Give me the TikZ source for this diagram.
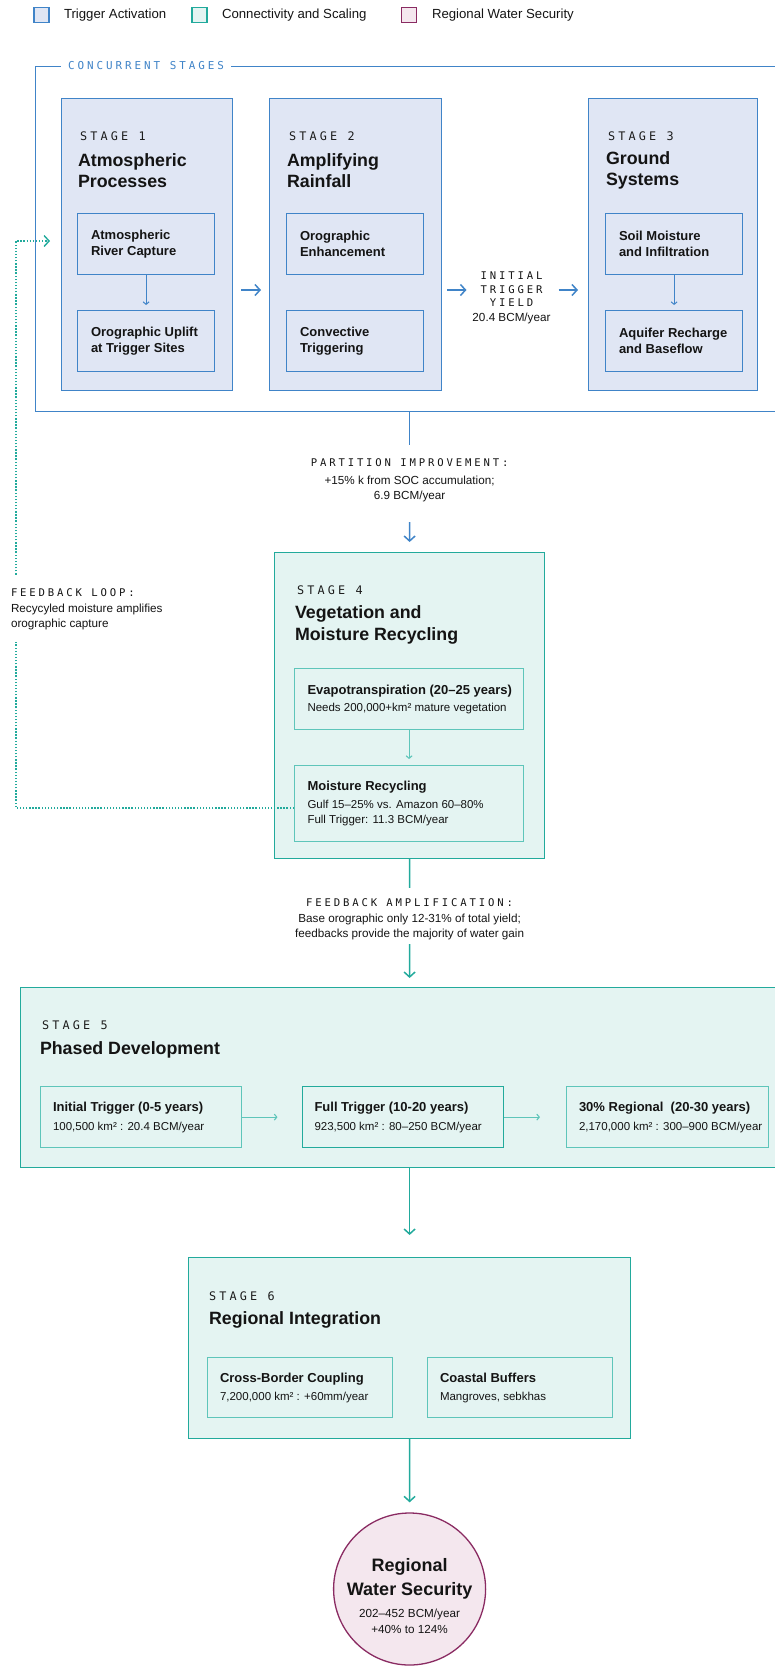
\documentclass[tikz,border=0pt]{standalone}
\usepackage{fontspec}
\setmainfont{Liberation Sans}
\newfontfamily\monof[LetterSpace=27]{DejaVu Sans Mono}
\usetikzlibrary{arrows.meta}
\definecolor{bstroke}{HTML}{4084C8}
\definecolor{bfill}{HTML}{E0E6F4}
\definecolor{tstroke}{HTML}{22AA9C}
\definecolor{tlight}{HTML}{5EC5BA}
\definecolor{tfill}{HTML}{E4F4F2}
\definecolor{pstroke}{HTML}{8A2B62}
\definecolor{pfill}{HTML}{F4E7EE}
\definecolor{ink}{HTML}{141414}
\definecolor{monoink}{HTML}{1C1C1C}
\newcommand{\mtxt}[1]{{\monof\fontsize{10.6}{13.5}\selectfont #1}}
\newcommand{\ibf}[1]{{\bfseries\fontsize{13}{15}\selectfont #1}}
\newcommand{\gbf}[1]{{\bfseries\fontsize{18}{20}\selectfont #1}}
\tikzset{
  box/.style={anchor=north west, inner sep=0pt, line width=1.2pt},
  bbox/.style={box, draw=bstroke, fill=bfill},
  tbox/.style={box, draw=tstroke, fill=tfill},
  tibox/.style={box, draw=tlight, fill=tfill},
  txt/.style={inner sep=0pt, outer sep=0pt, text=ink, align=left},
  stagelab/.style={txt, anchor=west, text=monoink, font=\monof\fontsize{11.8}{13}\selectfont},
  title/.style={txt, anchor=west, font=\bfseries\fontsize{17.8}{21}\selectfont},
  ibtext/.style={txt, anchor=west, font=\bfseries\fontsize{13}{16}\selectfont},
  idtext/.style={txt, anchor=west, font=\fontsize{11.5}{15}\selectfont},
  lgtext/.style={txt, anchor=west, font=\fontsize{13.2}{15}\selectfont},
  midtext/.style={txt, align=center, anchor=center, font=\fontsize{11.7}{15}\selectfont},
  bline/.style={draw=bstroke, line width=1.5pt},
  barr/.style={bline, -{Straight Barb[length=5pt,width=11pt]}},
  bsarr/.style={draw=bstroke, line width=1pt, -{Straight Barb[length=2.5pt,width=6pt]}},
  tline/.style={draw=tstroke, line width=1.5pt},
  tarr/.style={tline, -{Straight Barb[length=5pt,width=11pt]}},
  tsarr/.style={draw=tlight, line width=1.1pt, -{Straight Barb[length=2.5pt,width=6pt]}},
  fbline/.style={draw=tstroke, line width=1.4pt, dash pattern=on 1.4pt off 1.7pt, -{Straight Barb[length=5pt,width=11pt]}},
}
\begin{document}
\begin{tikzpicture}[x=1pt, y=-1pt]
\useasboundingbox (0,0) rectangle (775,1668);
\clip (0,0) rectangle (775,1668);

% legend
\node[box, anchor=center, draw=bstroke, fill=bfill, minimum size=15pt] (lg1) at (41.5,15) {};
\node[lgtext] (lg1t) at (64,15) {Trigger Activation};
\node[box, anchor=center, draw=tstroke, fill=tfill, minimum size=15pt] (lg2) at (199.5,15) {};
\node[lgtext] (lg2t) at (222,15) {Connectivity and Scaling};
\node[box, anchor=center, draw=pstroke, fill=pfill, minimum size=15pt] (lg3) at (409,15) {};
\node[lgtext] (lg3t) at (432,15) {Regional Water Security};

% concurrent frame
\node[box, draw=bstroke, line width=1.5pt, minimum width=748pt, minimum height=345pt] (frame) at (34.85,65.6) {};
\node[fill=white, inner xsep=7pt, inner ysep=2pt, anchor=west, text=bstroke, font=\monof\fontsize{10.9}{12}\selectfont] (frlab) at (61,66) {CONCURRENT STAGES};

% stages 1-3
\node[bbox, minimum width=171pt, minimum height=292pt] (s1) at (61,98) {};
\node[bbox, minimum width=172pt, minimum height=292pt] (s2) at (269,98) {};
\node[bbox, minimum width=169pt, minimum height=292pt] (s3) at (588,98) {};
\node[stagelab] (s1l) at (80,136) {STAGE 1};
\node[title] (s1t) at (78,170.5) {Atmospheric\\Processes};
\node[stagelab] (s2l) at (289,136) {STAGE 2};
\node[title] (s2t) at (287,170.5) {Amplifying\\Rainfall};
\node[stagelab] (s3l) at (608,136) {STAGE 3};
\node[title] (s3t) at (606,170.5) {Ground\\Systems};

\node[bbox, minimum width=137pt, minimum height=61pt] (b1a) at (77,213) {};
\node[ibtext] (b1at) at ([xshift=14pt]b1a.west) {Atmospheric\\River Capture};
\node[bbox, minimum width=137pt, minimum height=61pt] (b1b) at (77,310) {};
\node[ibtext] (b1bt) at ([xshift=14pt]b1b.west) {Orographic Uplift\\at Trigger Sites};
\node[bbox, minimum width=137pt, minimum height=61pt] (b2a) at (286,213) {};
\node[ibtext] (b2at) at ([xshift=14pt]b2a.west) {Orographic\\Enhancement};
\node[bbox, minimum width=137pt, minimum height=61pt] (b2b) at (286,310) {};
\node[ibtext] (b2bt) at ([xshift=14pt]b2b.west) {Convective\\Triggering};
\node[bbox, minimum width=137pt, minimum height=61pt] (b3a) at (605,213) {};
\node[ibtext] (b3at) at ([xshift=14pt]b3a.west) {Soil Moisture\\and Infiltration};
\node[bbox, minimum width=137pt, minimum height=61pt] (b3b) at (605,310) {};
\node[ibtext] (b3bt) at ([xshift=14pt]b3b.west) {Aquifer Recharge\\and Baseflow};
\draw[bsarr, shorten >=5pt] (b1a.south) -- (b1b.north);
\draw[bsarr, shorten >=5pt] (b3a.south) -- (b3b.north);

\coordinate (ay) at (0,290);
\node[midtext, font=\fontsize{11.7}{13.5}\selectfont] (yl) at (511.5,298) {\mtxt{INITIAL}\\\mtxt{TRIGGER}\\\mtxt{YIELD}\\[1.5pt]20.4 BCM/year};
\draw[barr, shorten <=8pt, shorten >=8pt] (s1.east |- ay) -- (s2.west |- ay);
\draw[barr, shorten <=5pt, shorten >=6pt] (s2.east |- ay) -- (yl.west |- ay);
\draw[barr, shorten <=8pt, shorten >=10pt] (yl.east |- ay) -- (s3.west |- ay);

% partition label
\node[midtext] (plab) at (409.6,480.5) {\mtxt{PARTITION IMPROVEMENT:}\\[3pt]+15\% k from SOC accumulation;\\6.9 BCM/year};

% stage 4
\node[tbox, minimum width=270pt, minimum height=306pt] (s4) at (274,552) {};
\draw[bline, shorten >=14pt] (frame.south) -- (plab.north);
\draw[barr, shorten <=20pt, shorten >=10pt] (plab.south) -- (s4.north);
\node[stagelab] (s4l) at (297,590) {STAGE 4};
\node[title, font=\bfseries\fontsize{17.8}{22}\selectfont] (s4t) at (295,625) {Vegetation and\\Moisture Recycling};
\node[tibox, minimum width=229pt, minimum height=61pt] (b4a) at (294,668) {};
\node[idtext] (b4at) at ([xshift=13.5pt]b4a.west) {\ibf{Evapotranspiration (20–25 years)}\\[2pt]Needs 200,000+km² mature vegetation};
\node[tibox, minimum width=229pt, minimum height=76pt] (b4b) at (294,765) {};
\node[idtext] (b4bt) at ([xshift=13.5pt]b4b.west) {\ibf{Moisture Recycling}\\[3pt]Gulf 15–25\% vs. Amazon 60–80\%\\Full Trigger: 11.3 BCM/year};
\draw[tsarr, shorten >=6pt] (b4a.south) -- (b4b.north);

% feedback loop
\coordinate (fa) at (0,241);
\coordinate (fy) at (0,808);
\coordinate (fx) at (16,0);
\draw[fbline, shorten >=11pt] (b4b.west |- fy) -- (fx |- fy) -- (fx |- fa) -- (s1.west |- fa);
\node[txt, fill=white, inner ysep=12pt, inner xsep=0pt, anchor=west, font=\fontsize{11.7}{15}\selectfont] (fbl) at (11,609) {\mtxt{FEEDBACK LOOP:}\\[1pt]Recycyled moisture amplifies\\orographic capture};

% amplification label
\node[midtext] (alab) at (409.6,919.5) {\mtxt{FEEDBACK AMPLIFICATION:}\\[1pt]Base orographic only 12-31\% of total yield;\\feedbacks provide the majority of water gain};

% stage 5
\node[tbox, minimum width=778pt, minimum height=180pt] (s5) at (20,987) {};
\draw[tline, shorten >=11pt] (s4.south) -- (alab.north);
\draw[tarr, shorten <=4pt, shorten >=9pt] (alab.south) -- (s5.north);
\node[stagelab] (s5l) at (42,1025) {STAGE 5};
\node[title] (s5t) at (40,1050) {Phased Development};
\node[tibox, minimum width=201pt, minimum height=61pt] (c1) at (40,1086) {};
\node[idtext] (c1t) at ([xshift=13pt]c1.west) {\ibf{Initial Trigger (0-5 years)}\\[4pt]100,500 km² : 20.4 BCM/year};
\node[tbox, minimum width=201.5pt, minimum height=61pt] (c2) at (301.5,1086) {};
\node[idtext] (c2t) at ([xshift=13pt]c2.west) {\ibf{Full Trigger (10-20 years)}\\[4pt]923,500 km² : 80–250 BCM/year};
\node[tibox, minimum width=202pt, minimum height=61pt] (c3) at (566,1086) {};
\node[idtext] (c3t) at ([xshift=13pt]c3.west) {\ibf{30\% Regional\ \ (20-30 years)}\\[4pt]2,170,000 km² : 300–900 BCM/year};
\draw[tsarr, shorten >=24pt] (c1.east) -- (c2.west);
\draw[tsarr, shorten >=26pt] (c2.east) -- (c3.west);

% stage 6
\node[tbox, minimum width=442pt, minimum height=181pt] (s6) at (188,1257) {};
\draw[tarr, shorten >=22pt] (s5.south) -- (s6.north);
\node[stagelab] (s6l) at (209,1296) {STAGE 6};
\node[title] (s6t) at (209,1320) {Regional Integration};
\node[tibox, minimum width=185pt, minimum height=60pt] (d1) at (207,1357) {};
\node[idtext] (d1t) at ([xshift=13pt]d1.west) {\ibf{Cross-Border Coupling}\\[3pt]7,200,000 km² : +60mm/year};
\node[tibox, minimum width=185pt, minimum height=60pt] (d2) at (427,1357) {};
\node[idtext] (d2t) at ([xshift=13pt]d2.west) {\ibf{Coastal Buffers}\\[3pt]Mangroves, sebkhas};

% goal
\node[circle, draw=pstroke, fill=pfill, line width=1.3pt, minimum size=152pt, inner sep=0pt] (goal) at (409.6,1589) {};
\draw[tarr, shorten >=10pt] (s6.south) -- (goal.north);
\node[txt, align=center, anchor=center, font=\fontsize{11.7}{16}\selectfont] (goalt) at (409.6,1596) {\gbf{Regional}\\[6pt]\gbf{Water Security}\\[6pt]202–452 BCM/year\\+40\% to 124\%};
\end{tikzpicture}
\end{document}
